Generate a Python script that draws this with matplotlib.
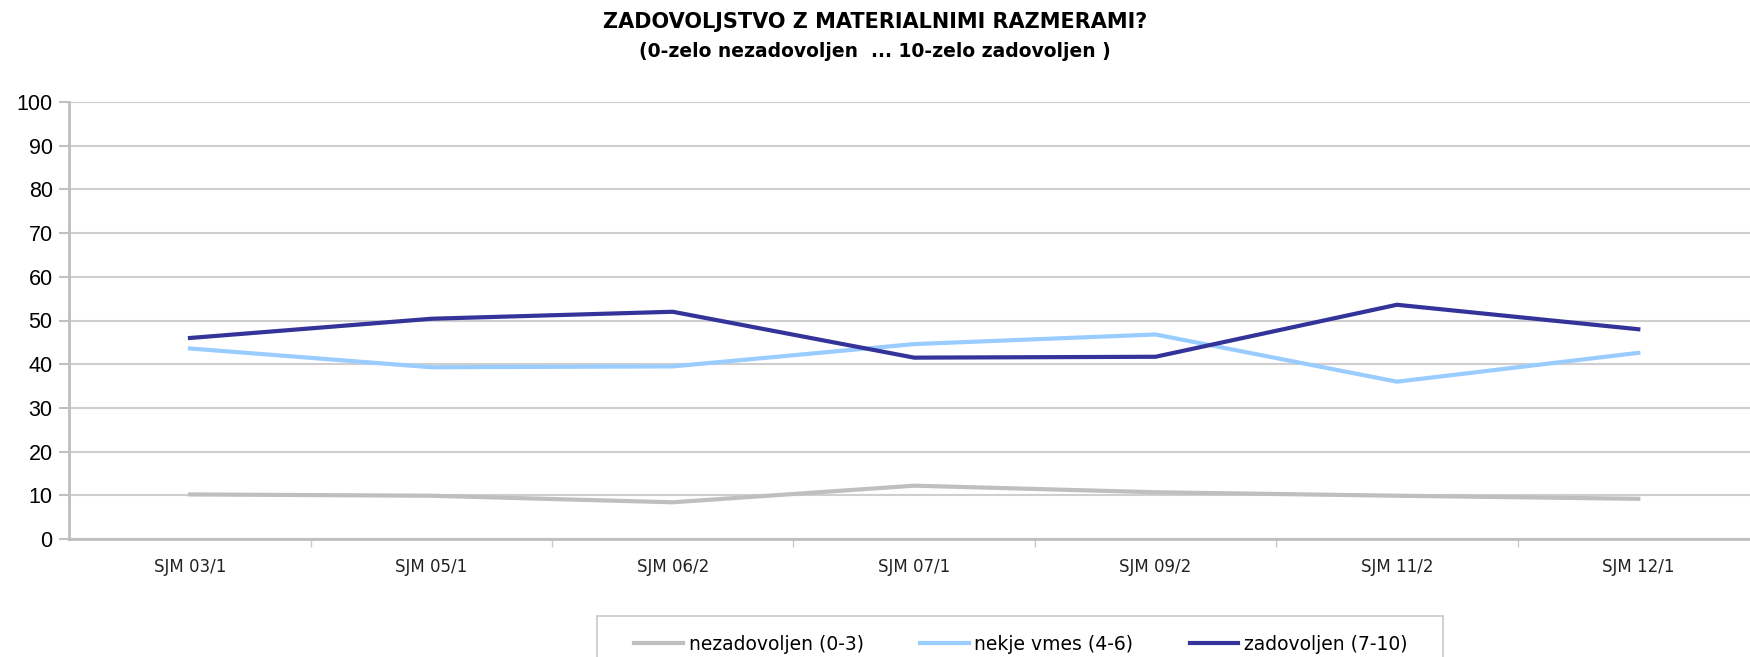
import numpy as np
import matplotlib.pyplot as plt
from matplotlib.patches import Rectangle

categories = ['SJM 03/1', 'SJM 05/1', 'SJM 06/2', 'SJM 07/1', 'SJM 09/2', 'SJM 11/2', 'SJM 12/1']
nezadovoljen = [10.2, 9.9, 8.4, 12.2, 10.7, 9.9, 9.2]
nekje_vmes = [43.6, 39.3, 39.5, 44.6, 46.8, 36.0, 42.6]
zadovoljen = [46.0, 50.4, 52.0, 41.5, 41.7, 53.6, 48.0]

fig = plt.figure(figsize=(17.5, 6.57), dpi=100)
ax = fig.add_axes([69.3 / 1750, 1 - 539 / 657, (1759 - 69.3) / 1750, 437 / 657])

x = np.arange(len(categories))
ax.plot(x, nezadovoljen, color='#BFBFBF', linewidth=3, label='nezadovoljen (0-3)')
ax.plot(x, nekje_vmes, color='#99CCFF', linewidth=3, label='nekje vmes (4-6)')
ax.plot(x, zadovoljen, color='#333399', linewidth=3, label='zadovoljen (7-10)')

# axis ranges
ax.set_xlim(-0.5, len(categories) - 0.5)
ax.set_ylim(0, 100)
ax.set_yticks(range(0, 101, 10))
ax.set_yticklabels([str(v) for v in range(0, 101, 10)], family=['Liberation Sans', 'DejaVu Sans'],
                   fontsize=15.5)

# category labels in the middle, tick marks on the boundaries
ax.set_xticks(x)
ax.set_xticklabels(categories, fontsize=12, color='#222222')
ax.set_xticks(np.arange(0.5, len(categories) - 0.5), minor=True)
ax.tick_params(axis='x', which='major', length=0, pad=14)
ax.tick_params(axis='x', which='minor', length=6, color='#C8C8C8', width=1)
ax.tick_params(axis='y', length=7, color='#C0C0C0', width=1.5, pad=5)

ax.grid(axis='y', color='#CFCFCF', linewidth=1.5)
ax.set_axisbelow(True)
for side in ['top', 'right']:
    ax.spines[side].set_visible(False)
for side in ['left', 'bottom']:
    ax.spines[side].set_color('#BEBEBE')
    ax.spines[side].set_linewidth(2)

# title and subtitle
fig.text(0.5, 0.966, 'ZADOVOLJSTVO Z MATERIALNIMI RAZMERAMI?', ha='center', va='center',
         fontweight='bold', fontsize=15)
fig.text(0.5, 0.921, '(0-zelo nezadovoljen  ... 10-zelo zadovoljen )', ha='center', va='center',
         fontweight='bold', fontsize=13.5)

# legend box runs off the bottom edge of the picture
fig.patches.append(Rectangle((597 / 1750, -0.05), (1443 - 597) / 1750, 0.05 + 1 - 616 / 657,
                             transform=fig.transFigure, facecolor='white',
                             edgecolor='#C8C8C8', linewidth=1.2, zorder=0))
leg = fig.legend(loc='center', bbox_to_anchor=(1021 / 1750, 1 - 644 / 657), ncol=3,
                 frameon=False, handlelength=2.6, columnspacing=3.0, handletextpad=0.3,
                 prop={'size': 13.5})

fig.savefig('out.png', dpi=100)
